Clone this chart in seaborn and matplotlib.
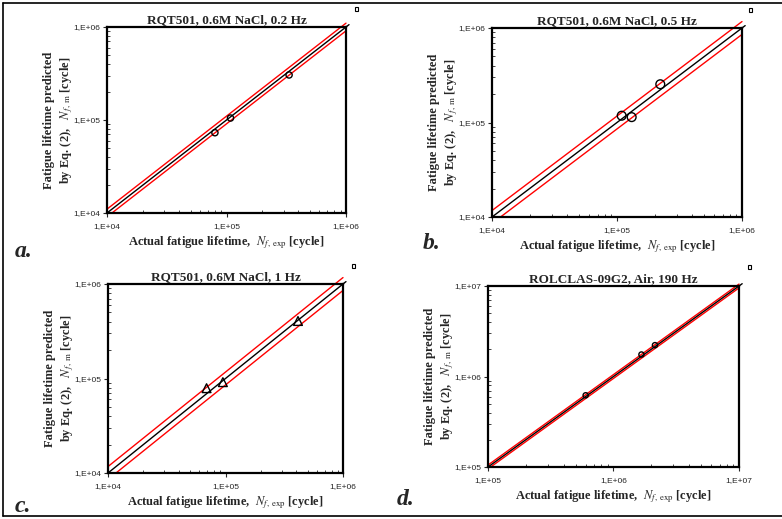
import numpy as np
import pandas as pd
import seaborn as sns
import matplotlib.pyplot as plt
from matplotlib.lines import Line2D
from matplotlib.patches import Rectangle
from matplotlib.ticker import LogLocator, FuncFormatter

sns.set_theme(style='ticks')
plt.rcParams['font.family'] = ['Liberation Serif', 'DejaVu Serif']
plt.rcParams['mathtext.fontset'] = 'stix'

# data (actual, predicted)
titles = ['RQT501, 0.6M NaCl, 0.2 Hz', 'RQT501, 0.6M NaCl, 0.5 Hz',
          'RQT501, 0.6M NaCl, 1 Hz', 'ROLCLAS-09G2, Air, 190 Hz']
panel_labels = ['a.', 'b.', 'c.', 'd.']

a_exp = [8.0e4, 1.08e5, 3.34e5]
a_pred = [7.3e4, 1.05e5, 3.05e5]
b_exp = [1.09e5, 1.31e5, 2.22e5]
b_pred = [1.18e5, 1.14e5, 2.54e5]
c_exp = [6.9e4, 9.5e4, 4.14e5]
c_pred = [7.9e4, 9.15e4, 4.06e5]
d_exp = [6.0e5, 1.67e6, 2.14e6]
d_pred = [6.2e5, 1.75e6, 2.22e6]

limits = [(1e4, 1e6), (1e4, 1e6), (1e4, 1e6), (1e5, 1e7)]
band = [1.1, 1.17, 1.17, 1.05]  # scatter band factor of red lines
markers = ['o', 'o', '^', 'o']
msizes = [20, 40, 40, 14]

W, H = 782, 519
fig = plt.figure(figsize=(W / 100, H / 100), dpi=100)

# axes boxes in pixels: left, top, right, bottom
boxes = [(107, 27, 346, 213), (492, 28, 742, 217),
         (108, 284, 343, 473), (488, 286, 739, 467)]
lab_pos = [(15, 257), (423, 249), (15, 512), (397, 505)]
sq_pos = [(355, 8), (749, 9), (352, 265), (748, 266)]

data = [(a_exp, a_pred), (b_exp, b_pred), (c_exp, c_pred), (d_exp, d_pred)]

def fmt(v, pos):
    e = int(round(np.log10(v)))
    return '1,E+%02d' % e

for i in range(4):
    l, t, r, b = boxes[i]
    ax = fig.add_axes([l / W, 1 - b / H, (r - l) / W, (b - t) / H])
    lo, hi = limits[i]
    xs = np.array([lo, hi * 1.06])
    df_line = pd.DataFrame({'x': xs, 'y': xs})
    k = band[i]
    xr = np.array([lo, hi])
    ax.plot(xr, xr * k, color='red', lw=1.0, clip_on=False)
    ax.plot(xr, xr / k, color='red', lw=1.0)
    sns.lineplot(data=df_line, x='x', y='y', color='black', lw=1.0, ax=ax)
    ax.lines[-1].set_clip_on(False)
    df = pd.DataFrame({'exp': data[i][0], 'pred': data[i][1]})
    sns.scatterplot(data=df, x='exp', y='pred', marker=markers[i], s=msizes[i],
                    facecolor='none', edgecolor='black', linewidth=1.0, ax=ax, zorder=5)
    ax.set_xscale('log')
    ax.set_yscale('log')
    ax.set_xlim(lo, hi)
    ax.set_ylim(lo, hi)
    ax.xaxis.set_major_locator(LogLocator(base=10, numticks=10))
    ax.yaxis.set_major_locator(LogLocator(base=10, numticks=10))
    ax.xaxis.set_major_formatter(FuncFormatter(fmt))
    ax.yaxis.set_major_formatter(FuncFormatter(fmt))
    ax.tick_params(which='major', direction='out', length=3, width=0.8,
                   labelsize=6, pad=2, labelfontfamily='Liberation Sans')
    ax.tick_params(axis='x', which='major', pad=4)
    ax.tick_params(which='minor', direction='in', length=2.5, width=0.6)
    for s in ax.spines.values():
        s.set_linewidth(1.6)
        s.set_color('black')
    ax.set_title(titles[i], fontsize=9.5, fontweight='bold', pad=3)
    ax.set_xlabel(r'Actual fatigue lifetime,  $N_{f\,,\,\mathrm{exp}}$ [cycle]',
                  fontsize=9, fontweight='bold', labelpad=3)
    ax.set_ylabel('Fatigue lifetime predicted\n' + r'by Eq. (2),   $N_{f\,,\,\mathrm{m}}$ [cycle]',
                  fontsize=9, fontweight='bold', linespacing=1.25, va='center')
    ax.yaxis.set_label_coords(-48 / (r - l), 0.5)
    ax.grid(False)
    fig.text(lab_pos[i][0] / W, 1 - lab_pos[i][1] / H, panel_labels[i],
             fontsize=17, fontweight='bold', fontstyle='italic')
    sx, sy = sq_pos[i]
    fig.add_artist(Rectangle((sx / W, 1 - (sy + 3) / H), 3 / W, 4 / H,
                             fill=False, edgecolor='black', lw=0.8))

# outer frame of the whole figure
fig.add_artist(Line2D([3 / W, 1], [1 - 3 / H, 1 - 3 / H], color='black', lw=1.2))
fig.add_artist(Line2D([3 / W, 3 / W], [1 - 3 / H, 1 - 516 / H], color='black', lw=1.2))
fig.add_artist(Line2D([3 / W, 1], [1 - 516 / H, 1 - 516 / H], color='black', lw=1.2))

fig.savefig('out.png', dpi=100)
